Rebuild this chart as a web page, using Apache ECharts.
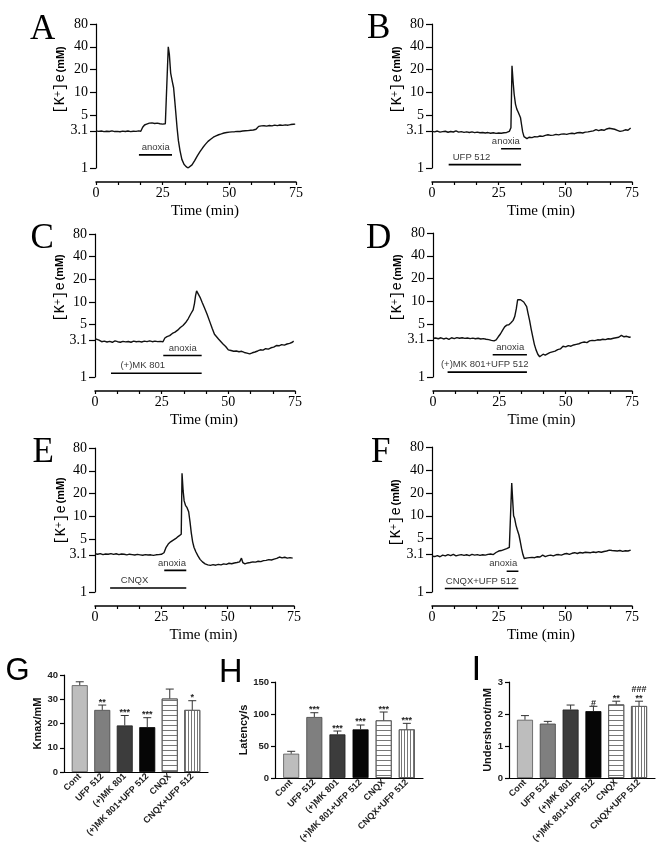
<!DOCTYPE html>
<html><head><meta charset="utf-8">
<script src="https://cdn.jsdelivr.net/npm/echarts@6.0.0/dist/echarts.min.js"></script>
<style>html,body{margin:0;padding:0;background:#fff}#c{width:664px;height:849px}</style>
</head><body><div id="c"></div>
<script>
// ---------- data ----------
const yTickValues = [1, 3.1, 5, 10, 20, 40, 80];
const yTickLabels = ['1', '3.1', '5', '10', '20', '40', '80'];
const timeTickStep = 25 / 3;
const timeLabelValues = [0, 25, 50, 75];

// [time (min), [K+]e (mM)]
const traceA = [[0,3.10],[1,3.05],[2,3.08],[3,3.02],[4,3.06],[5,3.04],[6,3.09],[7,3.03],[8,3.05],[9,3.01],[10,3.07],[11,3.04],[12,3.08],[13,3.03],[14,3.06],[15,3.05],[16,3.09],[16.8,3.06],[17.5,3.45],[18.2,3.70],[19,3.80],[20,3.92],[21,3.95],[22,3.88],[23,3.92],[24,3.85],[25,3.80],[26,3.84],[26.5,3.90],[27.1,40],[27.5,32],[28,18],[28.6,14],[29.1,11.5],[29.5,8],[29.9,5.5],[30.4,3.4],[30.9,2.3],[31.5,1.7],[32.2,1.3],[33,1.12],[33.7,1.05],[34.5,1.0],[35.2,1.02],[36,1.1],[37,1.25],[38,1.45],[39,1.65],[40,1.85],[41,2.05],[42,2.25],[43,2.4],[44,2.55],[45,2.65],[46,2.75],[47,2.82],[48,2.9],[49,2.95],[50,2.98],[51,3.0],[52,3.02],[53,3.05],[54,3.04],[55,3.08],[56,3.1],[57,3.12],[58,3.15],[59,3.18],[60,3.25],[60.6,3.3],[61,3.55],[62,3.6],[63,3.62],[64,3.58],[65,3.65],[66,3.6],[67,3.68],[68,3.63],[69,3.7],[70,3.66],[71,3.72],[72,3.68],[73,3.75],[74,3.78],[74.7,3.8]];
const traceB = [[0,3.05],[1,3.0],[2,3.08],[3,2.98],[4,3.02],[5,3.06],[6,2.97],[7,3.04],[8,2.99],[9,3.1],[10,2.98],[11,3.02],[12,2.96],[13,3.0],[14,2.95],[15,3.0],[16,2.93],[17,2.98],[18,2.92],[19,2.95],[20,2.9],[21,2.94],[22,2.88],[23,2.92],[24,2.87],[25,2.9],[26,2.88],[27,2.92],[28,2.95],[29,3.05],[29.6,3.4],[30,22.5],[30.4,14],[30.8,9.5],[31.3,7],[31.8,6],[32.3,5.5],[32.8,5.2],[33.2,4.6],[33.6,3.7],[34,3.0],[34.5,2.6],[35,2.5],[35.6,2.45],[36.5,2.55],[37.5,2.52],[38.5,2.6],[39.5,2.58],[40.5,2.65],[41.5,2.62],[42.5,2.7],[43.5,2.75],[44.5,2.7],[45.5,2.72],[46.5,2.78],[47.5,2.74],[48.5,2.8],[49.5,2.82],[50.5,2.78],[51.5,2.85],[52.5,2.88],[53.5,2.84],[54.5,2.92],[55.5,2.95],[56.5,2.9],[57.5,2.98],[58.5,3.0],[59.5,3.05],[60.5,3.1],[61.5,3.22],[62.5,3.12],[63.5,3.2],[64.5,3.15],[65.5,3.28],[66.5,3.35],[67.5,3.3],[68.5,3.25],[69.5,3.15],[70.5,3.05],[71.5,3.1],[72.5,3.2],[73.5,3.15],[74.5,3.38]];
const traceC = [[0,3.25],[0.7,3.3],[1.5,3.1],[2.5,2.95],[3.5,3.0],[4.5,2.92],[5.5,2.98],[6.5,2.9],[7.5,3.02],[8.5,2.95],[9.5,2.9],[10.5,2.98],[11.5,2.93],[12.5,2.97],[13.5,2.9],[14.5,3.0],[15.5,2.95],[16.5,2.98],[17.5,2.92],[18.5,3.0],[19.5,2.96],[20.5,3.02],[21.5,2.95],[22.5,3.0],[23.5,2.96],[24.5,2.98],[25.5,2.95],[26.2,3.3],[27,3.45],[28,3.55],[29,3.8],[30,3.95],[31,4.2],[32,4.55],[33,4.85],[34,5.3],[35,6.0],[36,7.0],[36.8,7.8],[37.3,9.5],[37.7,12],[38.1,14],[38.7,12.8],[39.4,11.5],[40.2,9.8],[41,8.4],[42,6.9],[43,5.5],[44,4.4],[44.8,3.7],[45.5,3.5],[46.3,3.2],[47,3.05],[48,2.75],[49,2.55],[50,2.3],[51,2.25],[52,2.2],[53,2.22],[54,2.17],[55,2.2],[56,2.12],[57,2.08],[58,2.03],[59,2.1],[60,2.15],[61,2.22],[62,2.3],[63,2.28],[64,2.38],[65,2.35],[66,2.45],[67,2.5],[68,2.62],[69,2.6],[70,2.7],[71,2.66],[72,2.75],[73,2.8],[74,2.9],[74.5,3.0]];
const traceD = [[0,3.25],[1,3.28],[2,3.2],[3,3.3],[4,3.18],[5,3.26],[6,3.15],[7,3.3],[8,3.22],[9,3.32],[10,3.25],[11,3.3],[12,3.24],[13,3.28],[14,3.22],[15,3.26],[16,3.2],[17,3.25],[18,3.18],[19,3.22],[20,3.15],[21,3.12],[22,3.05],[23,3.0],[23.8,3.1],[24.6,3.4],[25.4,3.7],[26.3,4.2],[27,4.6],[27.8,4.85],[28.6,4.9],[29.4,5.2],[30.2,5.6],[30.8,6.3],[31.4,8],[31.9,10.5],[32.4,11],[33,10.5],[33.6,10.3],[34.2,9.8],[34.8,9.5],[35.3,8.5],[35.8,7],[36.4,5.6],[37,4.3],[37.6,3.4],[38.2,2.7],[38.8,2.3],[39.5,2.0],[40.2,1.85],[40.8,1.9],[41.5,2.0],[42.3,1.95],[43,2.05],[44,2.1],[45,2.15],[46,2.2],[47,2.3],[48,2.35],[49,2.55],[50,2.5],[51,2.6],[52,2.55],[53,2.65],[54,2.7],[55,2.75],[56,2.85],[57,2.9],[58,2.85],[59,3.0],[60,3.05],[61,3.02],[62,3.1],[63,3.08],[64,3.15],[65,3.12],[66,3.2],[67,3.18],[68,3.25],[69,3.3],[70,3.35],[71,3.55],[72,3.4],[73,3.45],[74,3.35],[74.5,3.4]];
const traceE = [[0,3.2],[1,3.15],[2,3.22],[3,3.12],[4,3.18],[5,3.15],[6,3.22],[7,3.14],[8,3.2],[9,3.12],[10,3.18],[11,3.15],[12,3.1],[13,3.16],[14,3.12],[15,3.08],[16,3.14],[17,3.1],[18,3.06],[19,3.12],[20,3.08],[21,3.1],[22,3.05],[23,3.1],[24,3.12],[25,3.15],[26,3.3],[26.8,3.9],[27.6,4.3],[28.5,4.6],[29.5,4.85],[30.5,5.1],[31.3,5.4],[32,5.6],[32.5,5.8],[32.8,37],[33.2,22],[33.6,16],[34.1,14],[34.7,13],[35.3,11.5],[35.8,8.5],[36.3,6],[36.8,4.6],[37.3,3.9],[38,3.4],[38.8,3.0],[39.6,2.7],[40.5,2.5],[41.5,2.35],[42.5,2.28],[43.5,2.25],[44.5,2.3],[45.5,2.26],[46.5,2.32],[47.5,2.28],[48.5,2.35],[49.5,2.32],[50.5,2.4],[51.5,2.36],[52.5,2.42],[53.5,2.45],[54.5,2.5],[55.2,2.8],[55.7,2.45],[56.5,2.35],[57.5,2.42],[58.5,2.45],[59.5,2.5],[60.5,2.48],[61.5,2.55],[62.5,2.52],[63.5,2.6],[64.5,2.62],[65.5,2.68],[66.5,2.65],[67.5,2.72],[68.5,2.78],[69.5,2.9],[70.5,2.82],[71.5,2.88],[72.5,2.8],[73.5,2.85],[74.5,2.8]];
const traceF = [[0,2.95],[1,2.92],[2,3.0],[3,2.9],[4,3.05],[5,2.98],[6,3.1],[7,3.0],[8,3.12],[9,2.98],[10,3.05],[11,3.1],[12,3.02],[13,3.08],[14,3.0],[15,3.12],[16,3.05],[17,3.1],[18,3.02],[19,3.08],[20,3.05],[21,3.12],[22,3.15],[23,3.1],[24,3.3],[25,3.45],[26,3.5],[27,3.6],[28,3.7],[29,3.85],[29.6,3.95],[29.9,27],[30.3,15],[30.6,10],[31,9.2],[31.5,7.5],[32,6.5],[32.6,5.6],[33.1,4.6],[33.6,3.7],[34.1,3.1],[34.6,2.75],[35.2,2.62],[35.8,2.8],[36.5,2.75],[37.5,2.85],[38.5,2.82],[39.5,2.9],[40.5,2.88],[41.5,3.05],[42.5,2.92],[43.5,3.0],[44.5,3.05],[45.5,2.98],[46.5,3.08],[47.5,3.1],[48.5,3.05],[49.5,3.15],[50.5,3.2],[51.5,3.12],[52.5,3.22],[53.5,3.28],[54.5,3.2],[55.5,3.3],[56.5,3.25],[57.5,3.32],[58.5,3.3],[59.5,3.28],[60.5,3.35],[61.5,3.3],[62.5,3.38],[63.5,3.32],[64.5,3.4],[65.5,3.45],[66.5,3.55],[67.5,3.5],[68.5,3.48],[69.5,3.45],[70.5,3.5],[71.5,3.42],[72.5,3.48],[73.5,3.45],[74.5,3.55]];

// treatment bars: [start min, end min, level mM, text, text centre min]
const barsA = [[16.1, 28.5, 1.49, 'anoxia', 22.4]];
const barsB = [[25.9, 33.4, 1.8, 'anoxia', 27.7], [6.25, 33.4, 1.107, 'UFP 512', 14.8]];
const barsC = [[25.6, 40, 1.93, 'anoxia', 32.9], [6, 40, 1.12, '(+)MK 801', 17.9]];
const barsD = [[22.5, 35.4, 1.97, 'anoxia', 29.1], [5.5, 35.4, 1.16, '(+)MK 801+UFP 512', 19.5]];
const barsE = [[26.1, 34.4, 1.93, 'anoxia', 29.0], [5.7, 34.4, 1.13, 'CNQX', 14.9]];
const barsF = [[28, 32.4, 1.87, 'anoxia', 26.7], [4.8, 32.4, 1.11, 'CNQX+UFP 512', 18.4]];

const categories = ['Cont', 'UFP 512', '(+)MK 801', '(+)MK 801+UFP 512', 'CNQX', 'CNQX+UFP 512'];
const kmaxMean = [35.8, 25.6, 19.2, 18.5, 30.3, 25.6];
const kmaxSem = [1.4, 2.0, 4.1, 3.9, 3.9, 3.8];
const kmaxSig = ['', '**', '***', '***', '', '*'];
const latMean = [38, 95.3, 68.2, 76, 90.1, 76];
const latSem = [3.7, 6.7, 5.2, 6.8, 13, 9.4];
const latSig = ['', '***', '***', '***', '***', '***'];
const undMean = [1.82, 1.70, 2.14, 2.09, 2.30, 2.25];
const undSem = [0.13, 0.07, 0.14, 0.15, 0.10, 0.15];
const undSig = ['', '', '', '#', '**', '###\n**'];

// ---------- layout ----------
const tracePanels = [
  {letter: 'A', trace: traceA, bars: barsA, grid: {left: 96, top: 24, width: 200, height: 144}, lx: 30, ly: 30, nx: 60.5, ny: 80},
  {letter: 'B', trace: traceB, bars: barsB, grid: {left: 432, top: 24, width: 200, height: 144}, lx: 367, ly: 29, nx: 397, ny: 80},
  {letter: 'C', trace: traceC, bars: barsC, grid: {left: 95, top: 234, width: 200, height: 143}, lx: 30.5, ly: 239, nx: 60, ny: 288},
  {letter: 'D', trace: traceD, bars: barsD, grid: {left: 433, top: 233, width: 199, height: 144}, lx: 366, ly: 239, nx: 397.5, ny: 288},
  {letter: 'E', trace: traceE, bars: barsE, grid: {left: 95, top: 448, width: 199, height: 144}, lx: 32.5, ly: 453, nx: 61, ny: 511},
  {letter: 'F', trace: traceF, bars: barsF, grid: {left: 432, top: 447, width: 200, height: 145}, lx: 371, ly: 453, nx: 396, ny: 513}
];
const barPanels = [
  {letter: 'G', mean: kmaxMean, sem: kmaxSem, sig: kmaxSig, max: 40, interval: 10, name: 'Kmax/mM', nameGap: 20,
   grid: {left: 64, top: 675, width: 144, height: 97}, lx: 5.5, ly: 671, lsize: 31},
  {letter: 'H', mean: latMean, sem: latSem, sig: latSig, max: 150, interval: 50, name: 'Latency/s', nameGap: 23,
   grid: {left: 275, top: 682, width: 148, height: 96}, lx: 219, ly: 673, lsize: 32.5},
  {letter: 'I', mean: undMean, sem: undSem, sig: undSig, max: 3, interval: 1, name: 'Undershoot/mM', nameGap: 14,
   grid: {left: 509, top: 682, width: 146, height: 96}, lx: 471.5, ly: 670.5, lsize: 35}
];

const barStyles = [
  {color: '#bdbdbd', borderColor: '#555', borderWidth: 0.8},
  {color: '#7f7f7f', borderColor: '#444', borderWidth: 0.8},
  {color: '#3c3c3c', borderColor: '#222', borderWidth: 0.8},
  {color: '#060606', borderColor: '#000', borderWidth: 0.8},
  {color: '#ffffff', borderColor: '#555', borderWidth: 0.8,
   decal: {symbol: 'rect', symbolSize: 1, dashArrayX: [1, 0], dashArrayY: [1, 3.3], color: '#777', rotation: 0}},
  {color: '#ffffff', borderColor: '#555', borderWidth: 0.8,
   decal: {symbol: 'rect', symbolSize: 1, dashArrayX: [1, 0], dashArrayY: [1, 1.8], color: '#777', rotation: Math.PI / 2}}
];

const SERIF = 'Liberation Serif';
const SANS = 'Liberation Sans';
const X_GAP = 14;   // time axis sits below the y range
const TICK = 3;     // time-axis tick length
const yTickLogs = yTickValues.map(v => Math.log10(v));

const grid = [], xAxis = [], yAxis = [], series = [], graphic = [];

tracePanels.forEach((p) => {
  const gData = grid.length;
  grid.push(p.grid);
  xAxis.push({gridIndex: gData, type: 'value', min: 0, max: 75, show: false});
  yAxis.push({
    gridIndex: gData, type: 'value', min: 0, max: Math.log10(80),
    axisLine: {show: true, onZero: false, lineStyle: {color: '#000', width: 1.2}},
    axisTick: {show: true, length: 6, customValues: yTickLogs, lineStyle: {color: '#000', width: 1.2}},
    axisLabel: {
      customValues: yTickLogs, fontFamily: SERIF, fontSize: 14, color: '#000', margin: 8,
      formatter: (val) => {
        const k = yTickLogs.findIndex(l => Math.abs(l - val) < 1e-6);
        return k >= 0 ? yTickLabels[k] : '';
      }
    },
    splitLine: {show: false}
  });
  // strip under the trace that carries the detached time axis; its split lines act as downward ticks
  const gAxis = grid.length;
  const axisY = p.grid.top + p.grid.height + X_GAP;
  grid.push({left: p.grid.left, width: p.grid.width, top: axisY, height: TICK});
  xAxis.push({
    gridIndex: gAxis, type: 'value', position: 'top', min: 0, max: 75, interval: timeTickStep,
    axisLine: {show: true, onZero: false, lineStyle: {color: '#000', width: 1.5}},
    axisTick: {show: false},
    splitLine: {show: true, lineStyle: {color: '#000', width: 1.2}},
    axisLabel: {inside: true, customValues: timeLabelValues, formatter: v => String(Math.round(v)),
                fontFamily: SERIF, fontSize: 14, color: '#000', margin: 4}
  });
  yAxis.push({gridIndex: gAxis, type: 'value', min: 0, max: 1, show: false});

  series.push({
    type: 'line', xAxisIndex: gData, yAxisIndex: gData, showSymbol: false, symbol: 'none',
    data: p.trace.map(d => [d[0], Math.log10(d[1])]),
    lineStyle: {color: '#111', width: 1.4}, z: 3, silent: true
  });
  p.bars.forEach(b => {
    const lv = Math.log10(b[2]);
    series.push({
      type: 'line', xAxisIndex: gData, yAxisIndex: gData, showSymbol: false, symbol: 'none', silent: true,
      data: [[b[0], lv], [b[1], lv]], lineStyle: {color: '#000', width: 1.6}
    });
    series.push({
      type: 'scatter', xAxisIndex: gData, yAxisIndex: gData, symbolSize: 1, silent: true,
      itemStyle: {color: 'rgba(0,0,0,0)'},
      data: [[b[4], lv]],
      label: {show: true, position: 'top', distance: 2, formatter: b[3],
              fontFamily: SANS, fontSize: 9.5, color: '#000'}
    });
  });
  graphic.push({type: 'text', x: p.lx, y: p.ly,
    style: {text: p.letter, font: '35px "Liberation Serif"', fill: '#000', verticalAlign: 'middle'}});
  graphic.push({type: 'text', x: p.grid.left + p.grid.width / 2 + 9, y: axisY + 29,
    style: {text: 'Time (min)', font: '15px "Liberation Serif"', fill: '#000', align: 'center', verticalAlign: 'middle'}});
  graphic.push({type: 'text', x: p.nx, y: p.ny, rotation: Math.PI / 2,
    style: {
      text: '{a|[K}{s|+}{a|]e}{g| }{b|(mM)}', align: 'center', verticalAlign: 'middle',
      rich: {
        a: {fontFamily: 'Liberation Mono', fontSize: 14, fill: '#000'},
        s: {fontFamily: 'Liberation Mono', fontSize: 10, fill: '#000', verticalAlign: 'top'},
        g: {fontSize: 6},
        b: {fontFamily: SANS, fontSize: 11, fontWeight: 'bold', fill: '#000'}
      }
    }});
});

barPanels.forEach((p) => {
  const gi = grid.length;
  grid.push(p.grid);
  xAxis.push({
    gridIndex: gi, type: 'value', position: 'bottom', min: -0.7, max: 5.7,
    axisLine: {show: true, onZero: false, lineStyle: {color: '#000', width: 1.2}},
    axisTick: {show: false}, splitLine: {show: false},
    axisLabel: {
      customValues: [0, 1, 2, 3, 4, 5], rotate: 45, margin: 3,
      formatter: v => categories[Math.round(v)],
      fontFamily: SANS, fontSize: 9, fontWeight: 'bold', color: '#222'
    }
  });
  yAxis.push({
    gridIndex: gi, type: 'value', min: 0, max: p.max, interval: p.interval,
    axisLine: {show: true, onZero: false, lineStyle: {color: '#000', width: 1.2}},
    axisTick: {show: true, length: 4, lineStyle: {color: '#000', width: 1.2}},
    axisLabel: {fontFamily: SANS, fontSize: 9.5, fontWeight: 'bold', color: '#222', margin: 6},
    splitLine: {show: false},
    name: p.name, nameLocation: 'middle', nameGap: p.nameGap,
    nameTextStyle: {fontFamily: SANS, fontSize: 11, fontWeight: 'bold', color: '#111'}
  });
  series.push({
    type: 'bar', xAxisIndex: gi, yAxisIndex: gi, barWidth: 16, silent: true,
    data: p.mean.map((v, k) => ({value: [k, v], itemStyle: barStyles[k]}))
  });
  const meanArr = p.mean, semArr = p.sem, sigArr = p.sig;
  series.push({
    type: 'custom', xAxisIndex: gi, yAxisIndex: gi, z: 5, silent: true,
    data: meanArr.map((v, k) => [k, v]),
    renderItem: (params, api) => {
      const k = params.dataIndex;
      const m = meanArr[k], s = semArr[k];
      const p0 = api.coord([k, m]), p1 = api.coord([k, m + s]);
      const children = [
        {type: 'line', shape: {x1: p0[0], y1: p0[1], x2: p1[0], y2: p1[1]}, style: {stroke: '#333', lineWidth: 1}},
        {type: 'line', shape: {x1: p1[0] - 4, y1: p1[1], x2: p1[0] + 4, y2: p1[1]}, style: {stroke: '#333', lineWidth: 1}}
      ];
      const sg = sigArr[k];
      if (sg) {
        children.push({type: 'text', x: p1[0], y: p1[1] + 1.5,
          style: {text: sg, align: 'center', verticalAlign: 'bottom', lineHeight: 9,
                  font: 'bold 9px "Liberation Sans"', fill: '#222'}});
      }
      return {type: 'group', children};
    }
  });
  graphic.push({type: 'text', x: p.lx, y: p.ly,
    style: {text: p.letter, font: p.lsize + 'px "Liberation Sans"', fill: '#000', verticalAlign: 'middle'}});
});

const chart = echarts.init(document.getElementById('c'), null, {renderer: 'canvas'});
chart.setOption({
  animation: false,
  backgroundColor: '#fff',
  textStyle: {fontFamily: SANS},
  grid, xAxis, yAxis, series, graphic
});
</script>
</body></html>
